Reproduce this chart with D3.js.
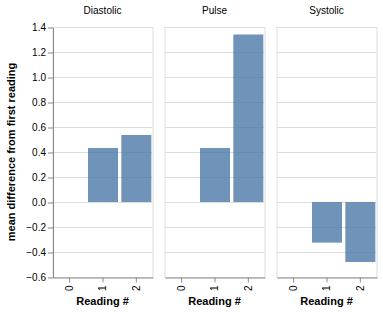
<!DOCTYPE html>
<html>
<head>
<meta charset="utf-8">
<script src="https://cdn.jsdelivr.net/npm/d3@7"></script>
<style>
  body { margin: 0; background: #fff; }
  text { font-family: Arial, "Liberation Sans", sans-serif; }
</style>
</head>
<body>
<div id="chart"></div>
<script>
// data
const facets = ["Diastolic", "Pulse", "Systolic"];
const readings = ["0", "1", "2"];
const diastolic = [null, 0.432, 0.536];
const pulse = [null, 0.432, 1.34];
const systolic = [null, -0.325, -0.48];
const yTicks = [-0.6, -0.4, -0.2, 0.0, 0.2, 0.4, 0.6, 0.8, 1.0, 1.2, 1.4];

const seriesByFacet = {Diastolic: diastolic, Pulse: pulse, Systolic: systolic};

const chartSpecs = {
  margin: {top: 27, left: 52.5},
  facetWidth: 100,
  facetHeight: 250,
  spacing: 12,
  width: 383,
  height: 314
};

const {margin, facetWidth, facetHeight, spacing} = chartSpecs;

const svg = d3.select("#chart")
  .append("svg")
  .attr("width", chartSpecs.width)
  .attr("height", chartSpecs.height);

const y = d3.scaleLinear()
  .domain([-0.6, 1.4])
  .range([margin.top + facetHeight, margin.top]);

const x = d3.scaleBand()
  .domain(readings)
  .range([0, facetWidth])
  .paddingInner(0.1)
  .paddingOuter(0.05);

facets.forEach((name, i) => {
  const g = svg.append("g")
    .attr("transform", "translate(" + (margin.left + i * (facetWidth + spacing)) + ",0)");

  // grid
  g.append("g")
    .selectAll("line")
    .data(yTicks)
    .join("line")
      .attr("x1", 0)
      .attr("x2", facetWidth)
      .attr("y1", d => Math.round(y(d)) + 0.5)
      .attr("y2", d => Math.round(y(d)) + 0.5)
      .attr("stroke", "#ddd");

  // view border
  g.append("rect")
    .attr("x", 0.5)
    .attr("y", margin.top + 0.5)
    .attr("width", facetWidth)
    .attr("height", facetHeight)
    .attr("fill", "none")
    .attr("stroke", "#ddd");

  // bars
  const vals = seriesByFacet[name];
  g.append("g")
    .selectAll("rect")
    .data(readings.map((r, j) => ({r, v: vals[j]})).filter(d => d.v !== null))
    .join("rect")
      .attr("x", d => x(d.r) + 0.5)
      .attr("width", x.bandwidth())
      .attr("y", d => y(Math.max(0, d.v)))
      .attr("height", d => Math.abs(y(d.v) - y(0)))
      .style("fill", "#4c78a8")
      .style("opacity", 0.8);

  // x axis
  const gx = g.append("g")
    .attr("transform", "translate(0.5," + (margin.top + facetHeight + 0.5) + ")")
    .call(d3.axisBottom(x).tickSize(5).tickSizeOuter(0));
  gx.select(".domain").attr("stroke", "#888");
  gx.selectAll(".tick line").attr("stroke", "#888");
  gx.selectAll(".tick text")
    .attr("transform", "rotate(-90)")
    .attr("x", -8)
    .attr("y", 0)
    .attr("dy", "0.32em")
    .attr("text-anchor", "end")
    .attr("fill", "#000")
    .style("font-size", "10px");

  g.append("text")
    .attr("x", facetWidth / 2)
    .attr("y", 305)
    .attr("text-anchor", "middle")
    .style("font-size", "11px")
    .style("font-weight", "bold")
    .text("Reading #");

  // facet header
  g.append("text")
    .attr("x", facetWidth / 2)
    .attr("y", 14)
    .attr("text-anchor", "middle")
    .style("font-size", "10px")
    .text(name);

  if (i === 0) {
    const gy = g.append("g")
      .attr("transform", "translate(0.5,0.5)")
      .call(d3.axisLeft(y).tickValues(yTicks).tickFormat(d3.format(".1f")).tickSize(5).tickSizeOuter(0));
    gy.select(".domain").attr("stroke", "#888");
    gy.selectAll(".tick line").attr("stroke", "#888");
    gy.selectAll(".tick text")
      .attr("x", -7)
      .attr("fill", "#000")
      .style("font-size", "10px");

    g.append("text")
      .attr("transform", "translate(-38," + (margin.top + facetHeight / 2) + ") rotate(-90)")
      .attr("text-anchor", "middle")
      .style("font-size", "11px")
      .style("font-weight", "bold")
      .text("mean difference from first reading");
  }
});
</script>
</body>
</html>
